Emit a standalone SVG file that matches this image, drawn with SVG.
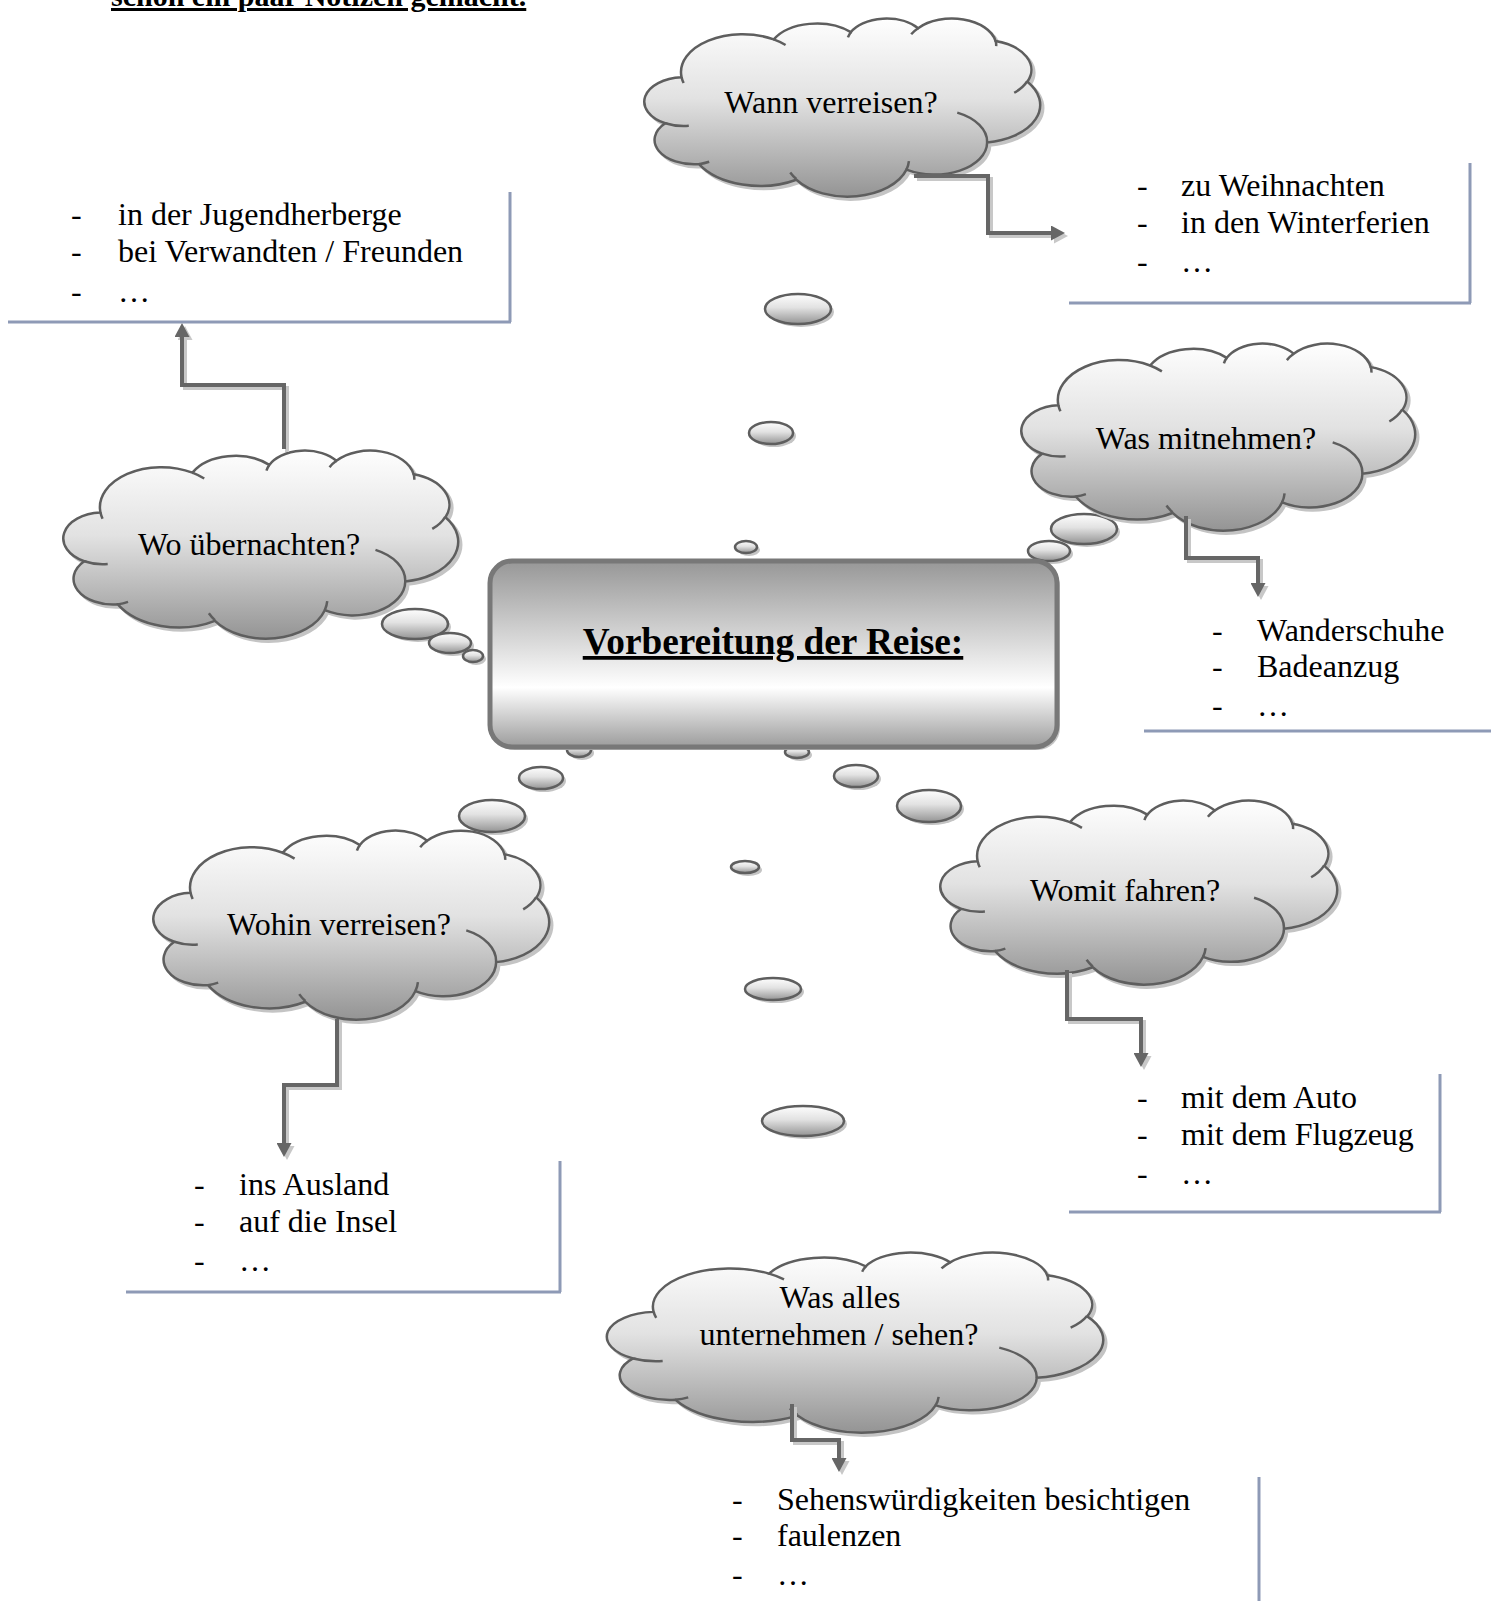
<svg xmlns="http://www.w3.org/2000/svg" xmlns:xlink="http://www.w3.org/1999/xlink" width="1491" height="1601" viewBox="0 0 1491 1601">
<style>
text{font-family:"Liberation Serif","Times New Roman",serif;font-size:32px;fill:#000}
.ct{text-anchor:middle}
.title{font-weight:bold;font-size:37.3px;text-anchor:middle;text-decoration:underline;text-decoration-thickness:3px}
.top{font-weight:bold;font-size:30px;text-decoration:underline;text-decoration-thickness:3px}
.cf{fill:url(#gCloud);stroke:#5e5e5e}
.csh{fill:#c4c4c4;stroke:#c4c4c4}
.ci{fill:none;stroke:#5e5e5e}
.bub{fill:url(#gCloud);stroke:#5e5e5e;stroke-width:2.5}
.bsh{fill:#c4c4c4}
.bl{stroke:#8e9ab6;stroke-width:3;fill:none}
.cn{fill:none;stroke:#666;stroke-width:4}
.cns{fill:none;stroke:#c8c8c8;stroke-width:4}
</style>
<defs>
<linearGradient id="gCloud" x1="0" y1="0" x2="0" y2="1">
<stop offset="0" stop-color="#fefefe"/>
<stop offset="0.45" stop-color="#e2e2e2"/>
<stop offset="1" stop-color="#949494"/>
</linearGradient>
<linearGradient id="gBox" x1="0" y1="0" x2="0" y2="1">
<stop offset="0" stop-color="#979797"/>
<stop offset="0.68" stop-color="#ffffff"/>
<stop offset="1" stop-color="#9c9c9c"/>
</linearGradient>
<path id="cs" vector-effect="non-scaling-stroke" stroke-width="2.5" d="M3900 14370A6753 9190 0 0 1 14006 5203A5333 7267 0 0 1 22458 3430A4365 5945 0 0 1 29835 2479A4857 6595 0 0 1 38320 5574A5333 7273 0 0 1 41820 15458A6775 9220 0 0 1 37405 30200A5785 7867 0 0 1 28557 36811A6752 9215 0 0 1 16483 39264A7720 10543 0 0 1 5807 35470A4360 5918 0 0 1 2114 25551A4345 5945 0 0 1 3900 14370Z"/>
<path id="ci" vector-effect="non-scaling-stroke" stroke-width="2.5" d="M4693 26177A4345 5945 0 0 1 2114 25551M6928 34899A4360 5918 0 0 1 5807 35470M16478 39090A6752 9215 0 0 1 15814 37522M28827 34751A6752 9215 0 0 1 28557 36811M34129 22954A5785 7867 0 0 1 37405 30200M41798 15354A5333 7273 0 0 1 40371 18135M38324 5426A4857 6595 0 0 1 38396 6837M29078 3952A4857 6595 0 0 1 29835 2479M22141 4720A4365 5945 0 0 1 22458 3430M14000 5192A6753 9190 0 0 1 15305 6550M4127 15789A6753 9190 0 0 1 3900 14370"/>
<marker id="ah" markerUnits="userSpaceOnUse" markerWidth="15" markerHeight="15" refX="1" refY="7.5" orient="auto" viewBox="0 0 15 15"><path d="M0 0L14 7.5L0 15Z" fill="#666"/></marker>
<marker id="ahs" markerUnits="userSpaceOnUse" markerWidth="15" markerHeight="15" refX="1" refY="7.5" orient="auto" viewBox="0 0 15 15"><path d="M0 0L14 7.5L0 15Z" fill="#c8c8c8"/></marker>
</defs>
<rect width="1491" height="1601" fill="#fff"/>

<text id="heading" class="top" x="111" y="6">schon ein paar Notizen gemacht.</text>

<g id="bubbles">
<g class="bsh">
<ellipse cx="418" cy="627" rx="33" ry="15"/><ellipse cx="453" cy="646" rx="21" ry="10"/><ellipse cx="476" cy="659" rx="10" ry="6"/>
<ellipse cx="801" cy="312" rx="33" ry="15"/><ellipse cx="774" cy="436" rx="22" ry="11"/><ellipse cx="749" cy="550" rx="11" ry="6"/>
<ellipse cx="1087" cy="532" rx="33" ry="15"/><ellipse cx="1052" cy="554" rx="21" ry="10"/>
<ellipse cx="582" cy="753" rx="12" ry="7"/><ellipse cx="544" cy="781" rx="22" ry="11"/><ellipse cx="495" cy="819" rx="33" ry="16"/>
<ellipse cx="800" cy="755" rx="12" ry="6"/><ellipse cx="859" cy="779" rx="22" ry="11"/><ellipse cx="932" cy="809" rx="32" ry="16"/>
<ellipse cx="748" cy="870" rx="14" ry="6"/><ellipse cx="776" cy="992" rx="28" ry="11"/><ellipse cx="806" cy="1124" rx="41" ry="15"/>
</g>
<g class="bub">
<ellipse cx="415" cy="624" rx="33" ry="15"/><ellipse cx="450" cy="643" rx="21" ry="10"/><ellipse cx="473" cy="656" rx="10" ry="6"/>
<ellipse cx="798" cy="309" rx="33" ry="15"/><ellipse cx="771" cy="433" rx="22" ry="11"/><ellipse cx="746" cy="547" rx="11" ry="6"/>
<ellipse cx="1084" cy="529" rx="33" ry="15"/><ellipse cx="1049" cy="551" rx="21" ry="10"/>
<ellipse cx="579" cy="750" rx="12" ry="7"/><ellipse cx="541" cy="778" rx="22" ry="11"/><ellipse cx="492" cy="816" rx="33" ry="16"/>
<ellipse cx="797" cy="752" rx="12" ry="6"/><ellipse cx="856" cy="776" rx="22" ry="11"/><ellipse cx="929" cy="806" rx="32" ry="16"/>
<ellipse cx="745" cy="867" rx="14" ry="6"/><ellipse cx="773" cy="989" rx="28" ry="11"/><ellipse cx="803" cy="1121" rx="41" ry="15"/>
</g>
</g>

<g id="center">
<rect x="493" y="564" width="567" height="186" rx="22" fill="#c4c4c4"/>
<rect x="490" y="561" width="567" height="186" rx="22" fill="url(#gBox)" stroke="#787878" stroke-width="5"/>
<text class="title" x="773" y="654">Vorbereitung der Reise:</text>
</g>

<g id="cloud-wann">
<g transform="translate(649,21) scale(0.0091204,0.0041204)"><use xlink:href="#cs" class="csh"/></g>
<g transform="translate(646,18) scale(0.0091204,0.0041204)"><use xlink:href="#cs" class="cf"/><use xlink:href="#ci" class="ci"/></g>
<text class="ct" x="831" y="113">Wann verreisen?</text>
</g>

<g id="cloud-mitnehmen">
<g transform="translate(1026,346) scale(0.0090741,0.0043287)"><use xlink:href="#cs" class="csh"/></g>
<g transform="translate(1023,343) scale(0.0090741,0.0043287)"><use xlink:href="#cs" class="cf"/><use xlink:href="#ci" class="ci"/></g>
<text class="ct" x="1206" y="449">Was mitnehmen?</text>
</g>

<g id="cloud-wo">
<g transform="translate(68,453) scale(0.0090972,0.0043519)"><use xlink:href="#cs" class="csh"/></g>
<g transform="translate(65,450) scale(0.0090972,0.0043519)"><use xlink:href="#cs" class="cf"/><use xlink:href="#ci" class="ci"/></g>
<text class="ct" x="249" y="555">Wo übernachten?</text>
</g>

<g id="cloud-wohin">
<g transform="translate(158,833) scale(0.0091204,0.004375)"><use xlink:href="#cs" class="csh"/></g>
<g transform="translate(155,830) scale(0.0091204,0.004375)"><use xlink:href="#cs" class="cf"/><use xlink:href="#ci" class="ci"/></g>
<text class="ct" x="339" y="935">Wohin verreisen?</text>
</g>

<g id="cloud-womit">
<g transform="translate(945,803) scale(0.0091435,0.0042593)"><use xlink:href="#cs" class="csh"/></g>
<g transform="translate(942,800) scale(0.0091435,0.0042593)"><use xlink:href="#cs" class="cf"/><use xlink:href="#ci" class="ci"/></g>
<text class="ct" x="1125" y="901">Womit fahren?</text>
</g>

<g id="cloud-wasalles">
<g transform="translate(612,1255) scale(0.0114352,0.0041667)"><use xlink:href="#cs" class="csh"/></g>
<g transform="translate(609,1252) scale(0.0114352,0.0041667)"><use xlink:href="#cs" class="cf"/><use xlink:href="#ci" class="ci"/></g>
<text class="ct" x="840" y="1308">Was alles</text>
<text class="ct" x="839" y="1345">unternehmen / sehen?</text>
</g>

<g id="connectors">
<g transform="translate(3,3)">
<path class="cns" marker-end="url(#ahs)" d="M914 176H988V233H1052"/>
<path class="cns" marker-end="url(#ahs)" d="M284 449V385H182V336"/>
<path class="cns" marker-end="url(#ahs)" d="M1186 516V558H1258V584"/>
<path class="cns" marker-end="url(#ahs)" d="M337 1019V1085H284V1144"/>
<path class="cns" marker-end="url(#ahs)" d="M1067 970V1019H1141V1054"/>
<path class="cns" marker-end="url(#ahs)" d="M792 1404V1440H839V1459"/>
</g>
<path class="cn" marker-end="url(#ah)" d="M914 176H988V233H1052"/>
<path class="cn" marker-end="url(#ah)" d="M284 449V385H182V336"/>
<path class="cn" marker-end="url(#ah)" d="M1186 516V558H1258V584"/>
<path class="cn" marker-end="url(#ah)" d="M337 1019V1085H284V1144"/>
<path class="cn" marker-end="url(#ah)" d="M1067 970V1019H1141V1054"/>
<path class="cn" marker-end="url(#ah)" d="M792 1404V1440H839V1459"/>
</g>

<g id="notes-wo">
<path class="bl" d="M510 192V322M8 322H511"/>
<text x="71" y="225">-</text><text x="118" y="225">in der Jugendherberge</text>
<text x="71" y="262">-</text><text x="118" y="262">bei Verwandten / Freunden</text>
<text x="71" y="302">-</text><text x="118" y="302">…</text>
</g>

<g id="notes-wann">
<path class="bl" d="M1470 163V303M1069 303H1471"/>
<text x="1137" y="196">-</text><text x="1181" y="196">zu Weihnachten</text>
<text x="1137" y="233">-</text><text x="1181" y="233">in den Winterferien</text>
<text x="1137" y="272">-</text><text x="1181" y="272">…</text>
</g>

<g id="notes-mitnehmen">
<path class="bl" d="M1144 731H1491"/>
<text x="1212" y="641">-</text><text x="1257" y="641">Wanderschuhe</text>
<text x="1212" y="677">-</text><text x="1257" y="677">Badeanzug</text>
<text x="1212" y="716">-</text><text x="1257" y="716">…</text>
</g>

<g id="notes-wohin">
<path class="bl" d="M560 1161V1292M126 1292H561"/>
<text x="194" y="1195">-</text><text x="239" y="1195">ins Ausland</text>
<text x="194" y="1232">-</text><text x="239" y="1232">auf die Insel</text>
<text x="194" y="1271">-</text><text x="239" y="1271">…</text>
</g>

<g id="notes-womit">
<path class="bl" d="M1440 1074V1212M1069 1212H1441"/>
<text x="1137" y="1108">-</text><text x="1181" y="1108">mit dem Auto</text>
<text x="1137" y="1145">-</text><text x="1181" y="1145">mit dem Flugzeug</text>
<text x="1137" y="1184">-</text><text x="1181" y="1184">…</text>
</g>

<g id="notes-wasalles">
<path class="bl" d="M1259 1477V1601"/>
<text x="732" y="1510">-</text><text x="777" y="1510">Sehenswürdigkeiten besichtigen</text>
<text x="732" y="1546">-</text><text x="777" y="1546">faulenzen</text>
<text x="732" y="1585">-</text><text x="777" y="1585">…</text>
</g>
</svg>
